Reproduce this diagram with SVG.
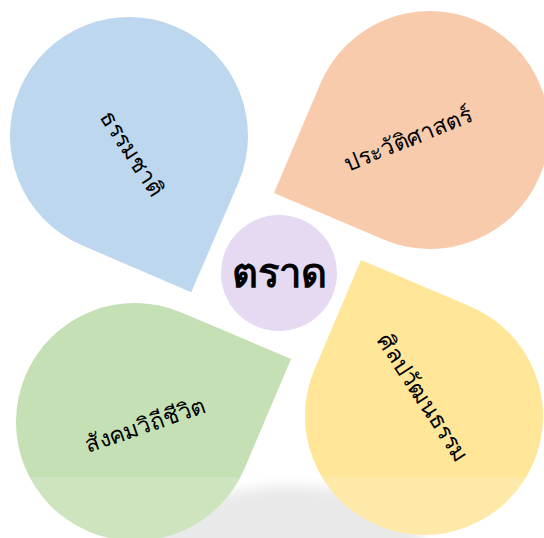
<svg xmlns="http://www.w3.org/2000/svg" width="544" height="538" viewBox="0 0 544 538">
<style>
.lbl{font-family:"Noto Sans","DejaVu Sans",sans-serif;font-size:23px;fill:#000;text-anchor:middle;dominant-baseline:central}
.ctr{font-family:"Noto Sans","DejaVu Sans",sans-serif;font-size:40px;font-weight:bold;fill:#000;text-anchor:middle;dominant-baseline:central}
</style>
<defs>
<path id="drop" d="M119,0 L119,119 L0,119 A119,119 0 1 1 119,0 Z"/>
<filter id="blur" x="-50%" y="-50%" width="200%" height="200%"><feGaussianBlur stdDeviation="6"/></filter>
</defs>
<rect width="544" height="538" fill="#fff"/>
<ellipse cx="290" cy="550" rx="135" ry="64" fill="#e6e6e6" filter="url(#blur)"/>
<g id="node-nature">
<use href="#drop" transform="translate(129,136) rotate(23.3)" fill="#BDD7EE"/>
<text class="lbl" transform="translate(133,153) rotate(57)">ธรรมชาติ</text>
</g>
<g id="node-history">
<use href="#drop" transform="translate(430,130) rotate(113)" fill="#F8CBAD"/>
<text class="lbl" transform="translate(408,138) rotate(-22)">ประวัติศาสตร์</text>
</g>
<g id="node-culture">
<use href="#drop" transform="translate(424,416) rotate(203)" fill="#FFE699"/>
<text class="lbl" transform="translate(424,397) rotate(57)">ศิลปวัฒนธรรม</text>
</g>
<g id="node-society">
<use href="#drop" transform="translate(135,422) rotate(293)" fill="#C5E0B4"/>
<text class="lbl" transform="translate(145,424) rotate(-19)">สังคมวิถีชีวิต</text>
</g>
<g id="node-center">
<circle cx="279" cy="273" r="58" fill="#E5DAF2"/>
<text class="ctr" x="279" y="271">ตราด</text>
</g>
<g id="connectors"></g>
<rect x="0" y="477" width="544" height="61" fill="#fff" opacity="0.15"/>
</svg>
